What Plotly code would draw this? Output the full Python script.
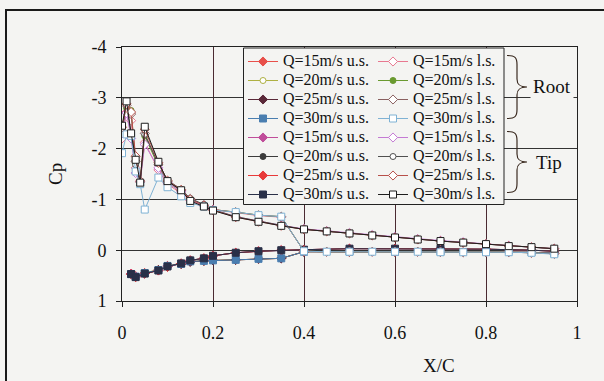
import plotly.graph_objects as go

# ---------------- data ----------------
x_ls = [0, 0.01, 0.02, 0.03, 0.04, 0.05, 0.08, 0.1, 0.13, 0.15, 0.18, 0.2, 0.25, 0.3, 0.35,
        0.4, 0.45, 0.5, 0.55, 0.6, 0.65, 0.7, 0.75, 0.8, 0.85, 0.9, 0.95]
x_us = [0.02, 0.03, 0.05, 0.08, 0.1, 0.13, 0.15, 0.18, 0.2, 0.25, 0.3, 0.35, 0.4,
        0.5, 0.6, 0.7, 0.8, 0.9, 0.95]

root15_ls = [-2.20, -2.72, -2.55, -1.62, -1.36, -2.12, -1.58, -1.30, -1.12, -0.98, -0.88, -0.80, -0.74, -0.68, -0.65,
             0.02, 0.03, 0.03, 0.03, 0.03, 0.03, 0.03, 0.04, 0.04, 0.04, 0.05, 0.07]
root20_ls = [-2.30, -2.80, -2.75, -1.70, -1.35, -2.25, -1.65, -1.33, -1.15, -1.00, -0.89, -0.80, -0.75, -0.69, -0.66,
             0.02, 0.03, 0.03, 0.03, 0.03, 0.03, 0.04, 0.04, 0.04, 0.04, 0.05, 0.07]
root25_ls = [-2.35, -2.85, -2.68, -1.75, -1.34, -2.30, -1.68, -1.35, -1.17, -1.01, -0.89, -0.80, -0.75, -0.69, -0.66,
             0.02, 0.03, 0.03, 0.03, 0.03, 0.03, 0.03, 0.04, 0.04, 0.04, 0.05, 0.07]
root30_ls = [-1.91, -2.28, -2.25, -1.55, -1.30, -0.80, -1.43, -1.24, -1.06, -0.93, -0.86, -0.79, -0.75, -0.69, -0.66,
             0.02, 0.03, 0.03, 0.03, 0.03, 0.03, 0.04, 0.04, 0.04, 0.04, 0.05, 0.08]
tip15_ls = [-2.30, -2.70, -2.20, -1.52, -1.35, -2.08, -1.62, -1.33, -1.15, -0.99, -0.88, -0.80, -0.66, -0.57, -0.49,
            -0.42, -0.38, -0.34, -0.30, -0.26, -0.22, -0.19, -0.16, -0.12, -0.09, -0.06, -0.03]
tip20_ls = [-2.40, -2.85, -2.28, -1.68, -1.34, -2.28, -1.70, -1.38, -1.20, -1.02, -0.90, -0.80, -0.66, -0.57, -0.49,
            -0.41, -0.37, -0.33, -0.29, -0.25, -0.22, -0.18, -0.15, -0.12, -0.09, -0.06, -0.03]
tip25_ls = [-2.42, -2.88, -2.72, -1.85, -1.36, -2.38, -1.72, -1.37, -1.19, -1.00, -0.88, -0.79, -0.65, -0.56, -0.48,
            -0.41, -0.37, -0.33, -0.29, -0.25, -0.21, -0.18, -0.15, -0.12, -0.08, -0.06, -0.03]
tip30_ls = [-2.45, -2.93, -2.30, -1.78, -1.33, -2.43, -1.74, -1.36, -1.18, -0.97, -0.86, -0.78, -0.65, -0.56, -0.48,
            -0.41, -0.37, -0.33, -0.29, -0.25, -0.21, -0.18, -0.15, -0.12, -0.08, -0.06, -0.03]

root15_us = [0.46, 0.51, 0.45, 0.39, 0.31, 0.27, 0.22, 0.21, 0.20, 0.19, 0.17, 0.16, 0.03, 0.03, 0.03, 0.03, 0.03, 0.04, 0.06]
root20_us = [0.47, 0.52, 0.45, 0.38, 0.31, 0.26, 0.22, 0.21, 0.20, 0.19, 0.17, 0.16, 0.03, 0.03, 0.03, 0.03, 0.03, 0.04, 0.06]
root25_us = [0.47, 0.52, 0.46, 0.39, 0.32, 0.27, 0.23, 0.21, 0.20, 0.19, 0.17, 0.16, 0.03, 0.03, 0.03, 0.03, 0.03, 0.04, 0.06]
root30_us = [0.47, 0.52, 0.45, 0.39, 0.31, 0.27, 0.22, 0.21, 0.20, 0.19, 0.17, 0.16, 0.03, 0.03, 0.03, 0.03, 0.03, 0.04, 0.06]
tip15_us = [0.46, 0.52, 0.46, 0.40, 0.32, 0.26, 0.20, 0.16, 0.11, 0.05, 0.02, 0.00, -0.01, -0.03, -0.03, -0.03, -0.02, 0.00, 0.02]
tip20_us = [0.47, 0.52, 0.46, 0.40, 0.32, 0.26, 0.20, 0.16, 0.11, 0.05, 0.02, 0.00, -0.01, -0.03, -0.03, -0.03, -0.02, 0.00, 0.02]
tip25_us = [0.47, 0.53, 0.46, 0.40, 0.33, 0.26, 0.20, 0.16, 0.11, 0.05, 0.02, 0.00, -0.01, -0.03, -0.03, -0.03, -0.02, 0.00, 0.02]
tip30_us = [0.47, 0.53, 0.46, 0.40, 0.32, 0.26, 0.20, 0.16, 0.11, 0.05, 0.02, 0.00, -0.01, -0.03, -0.03, -0.03, -0.02, 0.00, 0.02]

us_labels = ["Q=15m/s u.s.", "Q=20m/s u.s.", "Q=25m/s u.s.", "Q=30m/s u.s.",
             "Q=15m/s u.s.", "Q=20m/s u.s.", "Q=25m/s u.s.", "Q=30m/s u.s."]
ls_labels = ["Q=15m/s l.s.", "Q=20m/s l.s.", "Q=25m/s l.s.", "Q=30m/s l.s.",
             "Q=15m/s l.s.", "Q=20m/s l.s.", "Q=25m/s l.s.", "Q=30m/s l.s."]

x_ticks = [0, 0.2, 0.4, 0.6, 0.8, 1]
x_ticklabels = ["0", "0.2", "0.4", "0.6", "0.8", "1"]
y_ticks = [-4, -3, -2, -1, 0, 1]
y_ticklabels = ["-4", "-3", "-2", "-1", "0", "1"]

# ---------------- styles ----------------
BG = "#f4f4f2"
FONT = "Liberation Serif, Times New Roman, serif"

us_series = [root15_us, root20_us, root25_us, root30_us, tip15_us, tip20_us, tip25_us, tip30_us]
ls_series = [root15_ls, root20_ls, root25_ls, root30_ls, tip15_ls, tip20_ls, tip25_ls, tip30_ls]
us_style = [("#e8504a", "diamond", True), ("#aeb042", "circle", False), ("#5a2838", "diamond", True),
            ("#4a7eb0", "square", True), ("#c04d9a", "diamond", True), ("#3c3c3c", "circle", True),
            ("#e83a3a", "diamond", True), ("#2a3048", "square", True)]
ls_style = [("#e87890", "diamond", False), ("#6a9a30", "circle", True), ("#8a6060", "diamond", False),
            ("#7fb2d4", "square", False), ("#c47ad4", "diamond", False), ("#505050", "circle", False),
            ("#b8504a", "diamond", False), ("#1e1e1e", "square", False)]

draw_order = [0, 1, 2, 4, 5, 6, 3, 7]

fig = go.Figure()


def add(xs, ys, label, style, legend, rank):
    color, sym, filled = style
    size = 7 if sym == "square" else (6 if sym == "circle" else 7)
    fig.add_trace(go.Scatter(
        x=xs, y=ys, mode="lines+markers",
        name='<span style="font-size:16px">' + label + '</span>',
        legend=legend, legendrank=rank,
        line=dict(color=color, width=1),
        marker=dict(symbol=sym, size=size, color=color if filled else "white",
                    line=dict(color=color, width=1)),
    ))


for i in draw_order:
    add(x_us, us_series[i], us_labels[i], us_style[i], "legend", i + 1)
for i in draw_order:
    add(x_ls, ls_series[i], ls_labels[i], ls_style[i], "legend2", i + 1)

# ---------------- layout helpers ----------------
W, H = 604, 381
ML, MR, MT, MB = 122, 27, 47, 80
PW, PH = W - ML - MR, H - MT - MB


def X(px):
    return (px - ML) / PW


def Y(py):
    return 1 - (py - MT) / PH


row1 = MT + 14.5
rowh = 19


def brace(top, bot):
    mid = (top + bot) / 2
    xa, xs, xt = 507, 517, 527
    return (f"M {X(xa)},{Y(top)} C {X(xa+8)},{Y(top)} {X(xs)},{Y(top+2)} {X(xs)},{Y(top+9)} "
            f"L {X(xs)},{Y(mid-8)} C {X(xs)},{Y(mid-2)} {X(xs+3)},{Y(mid)} {X(xt)},{Y(mid)} "
            f"C {X(xs+3)},{Y(mid)} {X(xs)},{Y(mid+2)} {X(xs)},{Y(mid+8)} "
            f"L {X(xs)},{Y(bot-9)} C {X(xs)},{Y(bot-2)} {X(xa+8)},{Y(bot)} {X(xa)},{Y(bot)}")


b1 = (row1 - 6, row1 + 3 * rowh)
b2 = (row1 + 4 * rowh - 6, row1 + 7 * rowh - 2)

shapes = [
    dict(type="rect", xref="paper", yref="paper", x0=X(6), y0=Y(10), x1=X(640), y1=Y(420),
         line=dict(color="#1a1a1a", width=2), fillcolor="rgba(0,0,0,0)", layer="below"),
    dict(type="rect", xref="paper", yref="paper", x0=X(243.5), x1=X(504), y0=Y(48), y1=Y(row1 + 7 * rowh + 10),
         line=dict(color="#222", width=1), fillcolor=BG, layer="above"),
    dict(type="path", xref="paper", yref="paper", path=brace(*b1), line=dict(color="#3a2a20", width=1.2), layer="above"),
    dict(type="path", xref="paper", yref="paper", path=brace(*b2), line=dict(color="#3a2a20", width=1.2), layer="above"),
]

annotations = [
    dict(text="Root", x=X(530), y=Y(sum(b1) / 2), xref="paper", yref="paper", showarrow=False,
         xanchor="left", yanchor="middle",
         font=dict(family=FONT, size=19, color="#111"), bgcolor=BG, borderpad=2),
    dict(text="Tip", x=X(533), y=Y(sum(b2) / 2), xref="paper", yref="paper", showarrow=False,
         xanchor="left", yanchor="middle",
         font=dict(family=FONT, size=19, color="#111"), bgcolor=BG, borderpad=2),
    dict(text="X/C", x=X(439), y=Y(365), xref="paper", yref="paper", showarrow=False,
         xanchor="center", yanchor="middle",
         font=dict(family=FONT, size=19, color="#111")),
    dict(text="Cp", x=X(55), y=Y(174), xref="paper", yref="paper", showarrow=False, textangle=-90,
         xanchor="center", yanchor="middle",
         font=dict(family=FONT, size=19, color="#111")),
]

legend_common = dict(y=1, xanchor="left", yanchor="top", bgcolor="rgba(0,0,0,0)", borderwidth=0,
                     font=dict(family=FONT, size=11, color="#111"), itemwidth=30, tracegroupgap=0,
                     traceorder="normal")

fig.update_layout(
    width=W, height=H, margin=dict(l=ML, r=MR, t=MT, b=MB, pad=0),
    paper_bgcolor=BG, plot_bgcolor=BG,
    font=dict(family=FONT, size=18, color="#111"),
    showlegend=True,
    legend=dict(x=X(243), **legend_common),
    legend2=dict(x=X(373), **legend_common),
    shapes=shapes, annotations=annotations,
    xaxis=dict(range=[0, 1], tickvals=x_ticks, ticktext=x_ticklabels, showgrid=True,
               gridcolor="#4a2a32", gridwidth=1, zeroline=False, showline=True, mirror=True,
               linecolor="#222", linewidth=1, ticks="outside", ticklen=5, tickcolor="#222",
               tickfont=dict(family=FONT, size=18, color="#111"), ticklabelstandoff=10),
    yaxis=dict(range=[1, -4], tickvals=y_ticks, ticktext=y_ticklabels, showgrid=True,
               gridcolor="#333", gridwidth=1, zeroline=False, showline=True, mirror=True,
               linecolor="#222", linewidth=1, ticks="outside", ticklen=5, tickcolor="#222",
               tickfont=dict(family=FONT, size=18, color="#111"), ticklabelstandoff=6),
)

fig.write_html("out.html")
